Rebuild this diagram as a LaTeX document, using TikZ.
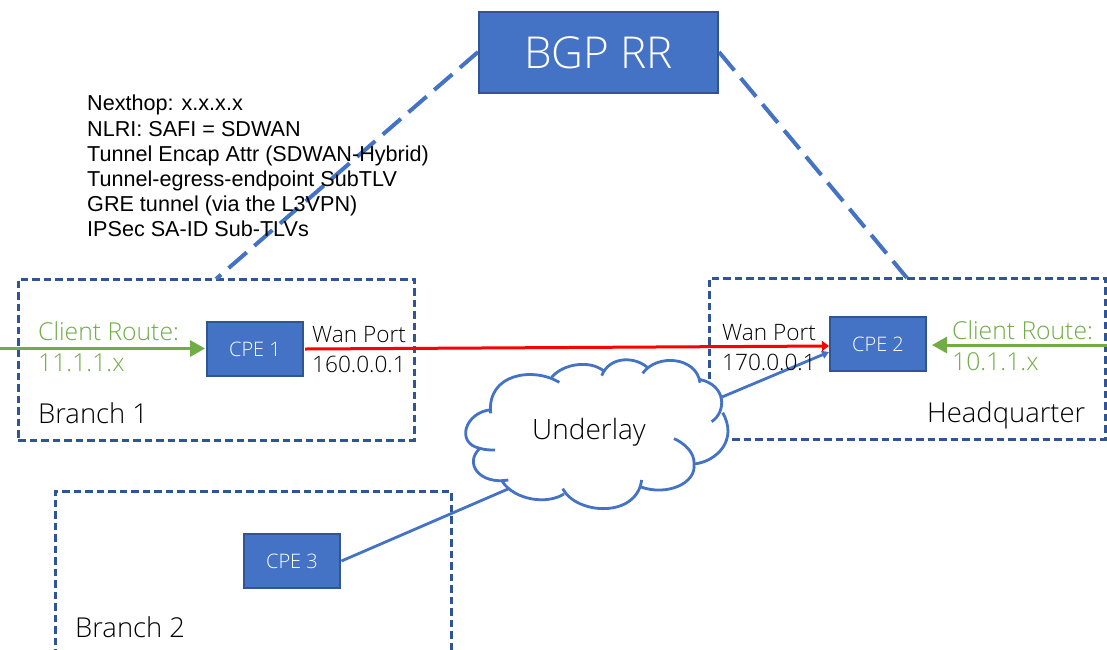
\documentclass[tikz,border=0pt]{standalone}
\usepackage{fontspec}
\setmainfont{Open Sans Light}
\newfontfamily\arialf{Liberation Sans}
\usetikzlibrary{arrows.meta}
\definecolor{boxblue}{HTML}{4472C4}
\definecolor{boxedge}{HTML}{2F5597}
\definecolor{routegreen}{HTML}{70AD47}
\definecolor{txtblack}{HTML}{000000}
\tikzset{
  px/.style={x=1pt,y=-1pt},
  cpebox/.style={draw=boxedge,line width=2.9pt,fill=boxblue,text=white,minimum width=96pt,minimum height=54pt,inner sep=0pt,font=\fontsize{20}{24}\selectfont},
  rrbox/.style={draw=boxedge,line width=2.9pt,fill=boxblue,text=white,minimum width=239pt,minimum height=81pt,inner sep=0pt,font=\fontsize{44}{52}\selectfont},
  sitebox/.style={draw=boxedge,line width=3pt,dash pattern=on 7.5pt off 4pt,minimum width=396pt,inner sep=0pt},
  rrlink/.style={draw=boxblue,line width=4pt,dash pattern=on 24pt off 10pt},
  link/.style={draw=boxblue,line width=2.8pt,-{Triangle[length=7pt,width=8pt]}},
  plainlink/.style={draw=boxblue,line width=2.8pt},
  wanlink/.style={draw=red,line width=3pt,-{Triangle[length=7pt,width=10pt]}},
  routelink/.style={draw=routegreen,line width=3pt,-{Triangle[length=15pt,width=16pt]}},
  lbl/.style={anchor=west,inner sep=0pt,text=txtblack,font=\fontsize{22.6}{26}\selectfont},
  namelbl/.style={lbl,font=\fontsize{27.4}{31}\selectfont},
  glbl/.style={lbl,text=routegreen,font=\fontsize{24.7}{29}\selectfont},
  note/.style={anchor=north west,inner sep=0pt,align=left,text=black,font=\arialf\fontsize{21.6}{25.2}\selectfont},
  cloudline/.style={draw=boxblue,line width=2.8pt},
}
\begin{document}
\begin{tikzpicture}[px]
\useasboundingbox (0,0) rectangle (1107,649);
\clip (0,0) rectangle (1107,649);
\fill[white] (0,0) rectangle (1107,649);
% site boxes
\node[sitebox,minimum height=161pt] (branch1) at (216,359.5) {};
\node[sitebox,minimum height=161pt] (hq) at (907,358.5) {};
\node[sitebox,minimum height=200pt] (branch2) at (253,591) {};
% RR links
\coordinate (b1top) at (216,279);
\coordinate (hqtop) at (907,278);
\coordinate (rrw) at (478,52);
\coordinate (rre) at (719,52);
\draw[rrlink] (rrw) -- (b1top);
\draw[rrlink] (rre) -- (hqtop);
% RR and CPE
\node[rrbox] (rr) at (598.5,52.5) {BGP RR};
\node[cpebox] (cpe1) at (255,349) {CPE 1};
\node[cpebox] (cpe2) at (878,344) {CPE 2};
\node[cpebox] (cpe3) at (292,561) {CPE 3};
% route links
\coordinate (leftin) at (0,348.5);
\coordinate (rightin) at (1107,345);
\coordinate (cpe1in) at (205,348.5);
\coordinate (cpe2in) at (932,345);
\draw[routelink] (leftin) -- (cpe1in);
\draw[routelink] (rightin) -- (cpe2in);
% wan and underlay links
\coordinate (cloudr) at (722,397);
\coordinate (cloudl) at (508,489);
\coordinate (cpe2w) at (829,352);
\coordinate (cpe1e) at (305,349);
\coordinate (cpe2wr) at (829,346);
\draw[wanlink] (cpe1e) -- (cpe2wr);
\draw[link] (cloudr) -- (cpe2w);
\draw[plainlink] (cpe3.east) -- (cloudl);
% cloud
\begin{scope}[shift={(440,340)},x=0.3333pt,y=-0.3333pt]
\fill[white] (187,423) .. controls (230,465) and (310,495) .. (370,447)
 .. controls (410,510) and (570,530) .. (605,440)
 .. controls (670,465) and (770,430) .. (762,372)
 .. controls (830,360) and (890,290) .. (848,218)
 .. controls (860,180) and (840,135) .. (778,118)
 .. controls (770,50) and (650,40) .. (612,95)
 .. controls (590,50) and (510,45) .. (487,95)
 .. controls (450,60) and (370,70) .. (335,112)
 .. controls (270,80) and (140,110) .. (152,210)
 .. controls (80,215) and (50,300) .. (120,325)
 .. controls (70,370) and (120,430) .. (187,423) -- cycle;
\draw[cloudline] (187,425) .. controls (225,480) and (320,495) .. (372,462);
\draw[cloudline] (368,446) .. controls (410,525) and (590,535) .. (605,420);
\draw[cloudline] (600,440) .. controls (680,470) and (770,430) .. (762,372) .. controls (765,340) and (735,310) .. (702,296);
\draw[cloudline] (762,372) .. controls (830,365) and (895,300) .. (848,218);
\draw[cloudline] (815,245) .. controls (860,215) and (860,135) .. (778,118);
\draw[cloudline] (780,128) .. controls (770,50) and (650,40) .. (608,100);
\draw[cloudline] (625,85) .. controls (590,50) and (510,45) .. (485,107);
\draw[cloudline] (490,92) .. controls (450,60) and (370,70) .. (335,112);
\draw[cloudline] (358,127) .. controls (280,80) and (140,100) .. (152,220);
\draw[cloudline] (155,209) .. controls (75,215) and (45,310) .. (120,325) .. controls (135,330) and (150,330) .. (165,330);
\draw[cloudline] (120,325) .. controls (70,370) and (120,435) .. (205,420);
\end{scope}
\node[anchor=center,inner sep=0pt,text=txtblack,font=\fontsize{28}{32}\selectfont] (underlay) at (589,432) {Underlay};
% labels
\node[glbl] (cr1) at (38,331) {Client Route:};
\node[glbl] (ip1) at (38,363) {11.1.1.x};
\node[namelbl] (bn1) at (38,413) {Branch 1};
\node[lbl] (wan1) at (312,335) {Wan Port};
\node[lbl] (wanip1) at (312,364) {160.0.0.1};
\node[lbl] (wan2) at (722,333) {Wan Port};
\node[lbl] (wanip2) at (722,362) {170.0.0.1};
\node[glbl] (cr2) at (952,330) {Client Route:};
\node[glbl] (ip2) at (952,362) {10.1.1.x};
\node[namelbl] (hqn) at (927,415) {Headquarter};
\node[namelbl] (bn2) at (75,627) {Branch 2};
\node[note] (attrs) at (87,95) {Nexthop: x.x.x.x\\NLRI: SAFI = SDWAN\\Tunnel Encap Attr (SDWAN-Hybrid)\\Tunnel-egress-endpoint SubTLV\\GRE tunnel (via the L3VPN)\\IPSec SA-ID Sub-TLVs};
\end{tikzpicture}
\end{document}
